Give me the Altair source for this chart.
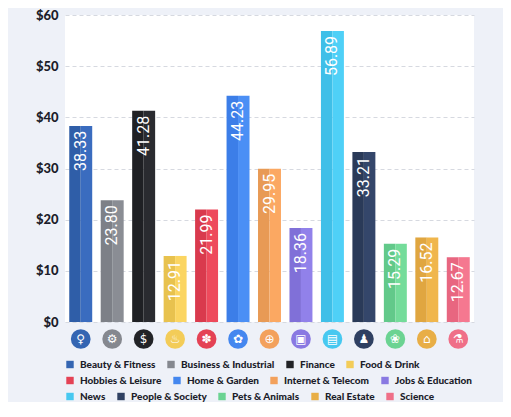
import altair as alt
import pandas as pd

# Average cost per click by industry
CATEGORIES = [
    "Beauty & Fitness", "Business & Industrial", "Finance", "Food & Drink",
    "Hobbies & Leisure", "Home & Garden", "Internet & Telecom", "Jobs & Education",
    "News", "People & Society", "Pets & Animals", "Real Estate", "Science",
]
CPC = [38.33, 23.80, 41.28, 12.91, 21.99, 44.23, 29.95, 18.36, 56.89, 33.21, 15.29, 16.52, 12.67]

# left (shaded) and right (lit) half of every bar, plus the badge / legend colour
SHADE_DARK = ["#2f5ea8", "#7d8087", "#1f2024", "#e8c24e", "#d93a4d", "#3c7ee8", "#e89a55",
              "#8070d8", "#3fbfe8", "#2a3a58", "#62c98a", "#e0a640", "#e86680"]
SHADE_LIGHT = ["#3a6cbf", "#8a8d94", "#2a2b30", "#fbd561", "#ee4a5c", "#4b8ff5", "#fba862",
               "#9181ea", "#4fd0f7", "#34466a", "#74dc9a", "#f0b64c", "#f57890"]
BADGE = ["#3465b2", "#85888f", "#222327", "#f3cc58", "#e44255", "#4487ef", "#f3a15c",
         "#8979e2", "#47c8f0", "#2f4062", "#6bd392", "#e8ae46", "#ef6f88"]
ICONS = ["♀", "⚙", "$", "♨", "✽", "✿", "⊕", "▣", "▤", "♟", "❀", "⌂", "⚗"]

# the legend flows in three rows: 4, 4 and 5 entries
LEGEND_ROWS = [(0, 4), (4, 8), (8, 13)]

BG = "#eef1f8"
INK = "#1c1d2b"
FONT = "Lato"
W, H = 409, 307

bars = pd.DataFrame({"Category": CATEGORIES, "CPC": CPC, "Icon": ICONS})
halves = pd.DataFrame({
    "Category": CATEGORIES * 2,
    "CPC": CPC * 2,
    "Half": ["a"] * len(CATEGORIES) + ["b"] * len(CATEGORIES),
})
halves["Tone"] = halves["Category"] + "|" + halves["Half"]
tone_domain = [c + "|a" for c in CATEGORIES] + [c + "|b" for c in CATEGORIES]

x = alt.X("Category:N", sort=CATEGORIES, axis=None,
          scale=alt.Scale(domain=CATEGORIES, paddingInner=0.27, paddingOuter=0.135))
y = alt.Y(
    "CPC:Q",
    title=None,
    scale=alt.Scale(domain=[0, 60]),
    axis=alt.Axis(
        values=[0, 10, 20, 30, 40, 50, 60],
        labelExpr="'$' + datum.value",
        domain=False,
        ticks=False,
        labelPadding=7,
        labelFont=FONT,
        labelFontSize=13,
        labelFontWeight=900,
        labelColor=INK,
        gridColor="#d6d9e0",
        gridDash=[4, 3],
    ),
)

split_bars = alt.Chart(halves).mark_bar().encode(
    x=x,
    xOffset=alt.XOffset("Half:N", scale=alt.Scale(paddingInner=0, paddingOuter=0)),
    y=y,
    fill=alt.Fill("Tone:N", scale=alt.Scale(domain=tone_domain, range=SHADE_DARK + SHADE_LIGHT),
                  legend=None),
)

labels = alt.Chart(bars).mark_text(
    angle=270, align="right", baseline="middle", dx=-5,
    font="Roboto", fontSize=16, color="white",
).encode(x=x, y=y, text=alt.Text("CPC:Q", format=".2f"))

badge_layers = []
for row, (lo, hi) in enumerate(LEGEND_ROWS):
    badge_layers.append(
        alt.Chart(bars.iloc[lo:hi]).mark_circle(size=390, opacity=1).encode(
            x=x,
            y=alt.value(H + 17),
            color=alt.Color(
                "Category:N",
                scale=alt.Scale(domain=CATEGORIES[lo:hi], range=BADGE[lo:hi]),
                legend=alt.Legend(
                    title=None,
                    orient="none",
                    legendX=0,
                    legendY=344.5 + 16 * row,
                    direction="horizontal",
                    columns=hi - lo,
                    symbolType="square",
                    symbolSize=55,
                    labelFont=FONT,
                    labelFontSize=10,
                    labelFontWeight=900,
                    labelColor=INK,
                    labelOffset=5,
                    columnPadding=10,
                ),
            ),
        )
    )

glyphs = alt.Chart(bars).mark_text(
    font="DejaVu Sans", fontSize=12, color="white", baseline="middle",
).encode(x=x, y=alt.value(H + 17), text="Icon:N")

chart = (
    alt.layer(split_bars, labels, *badge_layers, glyphs)
    .resolve_scale(color="independent")
    .properties(
        width=W,
        height=H,
        autosize="none",
        padding={"left": 57, "top": 7, "right": 29, "bottom": 80},
    )
    .configure(background=BG)
    .configure_view(fill="white", stroke=None)
)

chart.save("out.html", embed_options={"renderer": "svg", "actions": False})
